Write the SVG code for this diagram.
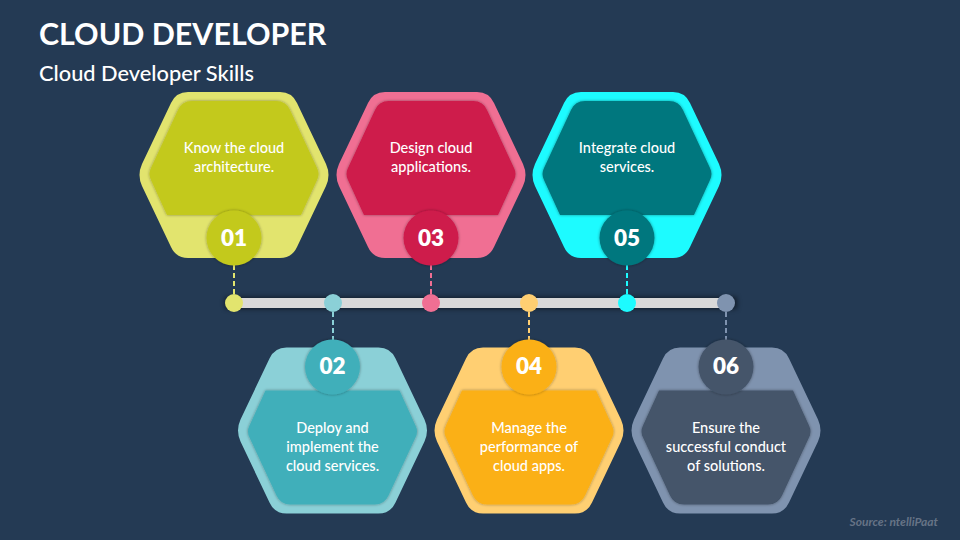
<svg xmlns="http://www.w3.org/2000/svg" width="960" height="540" viewBox="0 0 960 540">
<style>
text{font-family:"Lato","Carlito","Open Sans",sans-serif;fill:#fff}
.t{font-size:30.4px;font-weight:700}
.s{font-size:21.8px;font-weight:500}
.l{font-size:14.5px;font-weight:500;text-anchor:middle}
.n{font-size:22.5px;font-weight:800;text-anchor:middle}
.src{font-size:12px;font-weight:700;font-style:italic;fill:#667386;text-anchor:end}
.d{fill:none;stroke-width:2;stroke-dasharray:5 3}
.c1{fill:#E2E46E}.i1{fill:#C3C91C}.k1{stroke:#E2E46E}
.c2{fill:#8BD0D7}.i2{fill:#41AFBA}.k2{stroke:#8BD0D7}
.c3{fill:#F06F93}.i3{fill:#CE1A4B}.k3{stroke:#F06F93}
.c4{fill:#FFCF72}.i4{fill:#FBB017}.k4{stroke:#FFCF72}
.c5{fill:#1DFBFF}.i5{fill:#00777E}.k5{stroke:#1DFBFF}
.c6{fill:#7F93AF}.i6{fill:#44546A}.k6{stroke:#7F93AF}
</style>
<defs>
<filter id="sh" x="-20%" y="-20%" width="140%" height="140%"><feGaussianBlur in="SourceAlpha" stdDeviation="1.8" result="b"/><feFlood flood-color="#000" flood-opacity=".4"/><feComposite in2="b" operator="in"/><feMerge><feMergeNode/><feMergeNode in="SourceGraphic"/></feMerge></filter>
<filter id="bs" x="-5%" y="-100%" width="110%" height="300%"><feGaussianBlur stdDeviation="2.5"/></filter>
<path id="outer" d="M-46 -83H46Q58 -83 63 -72L92 -11Q97 0 92 11L63 72Q58 83 46 83H-46Q-58 83 -63 72L-92 11Q-97 0 -92 -11L-63 -72Q-58 -83 -46 -83Z"/>
<path id="innerT" d="M-42 -73H42Q52 -73 56 -64L83 -6Q86 0 83 6L67 41H-67L-83 6Q-86 0 -83 -6L-56 -64Q-52 -73 -42 -73Z"/>
<path id="innerB" d="M-42 73H42Q52 73 56 64L83 6Q86 0 83 -6L67 -41H-67L-83 -6Q-86 0 -83 6L-56 64Q-52 73 -42 73Z"/>
</defs>
<rect width="960" height="540" fill="#243A54"/>
<g id="title"><text class="t" x="39" y="45">CLOUD DEVELOPER</text><text class="s" x="39" y="81">Cloud Developer Skills</text></g>
<g id="connectors">
<rect x="225" y="297" width="512" height="12" fill="#000" opacity=".5" filter="url(#bs)"/>
<rect x="234" y="298" width="492" height="10" fill="#D9D9D9"/>
<path class="d k1" d="M234 265V295"/><path class="d k2" d="M333 312V340"/><path class="d k3" d="M431 265V295"/><path class="d k4" d="M529 312V340"/><path class="d k5" d="M627 265V295"/><path class="d k6" d="M726 312V340"/>
</g>
<g id="node1"><use href="#outer" class="c1" x="234" y="175"/><use href="#innerT" class="i1" x="234" y="174" filter="url(#sh)"/><circle class="i1" cx="234" cy="238" r="27.500" filter="url(#sh)"/><circle class="c1" cx="234" cy="303" r="9"/><text class="l" x="234" y="153">Know the cloud</text><text class="l" x="234" y="172">architecture.</text><text class="n" x="234" y="246">01</text></g>
<g id="node2"><use href="#outer" class="c2" x="332.500" y="430.500"/><use href="#innerB" class="i2" x="332.500" y="431.500" filter="url(#sh)"/><circle class="i2" cx="332.500" cy="367" r="27.500" filter="url(#sh)"/><circle class="c2" cx="333" cy="303" r="9"/><text class="l" x="332.500" y="433">Deploy and</text><text class="l" x="332.500" y="452">implement the</text><text class="l" x="332.500" y="471">cloud services.</text><text class="n" x="332.500" y="374">02</text></g>
<g id="node3"><use href="#outer" class="c3" x="431" y="175"/><use href="#innerT" class="i3" x="431" y="174" filter="url(#sh)"/><circle class="i3" cx="431" cy="238" r="27.500" filter="url(#sh)"/><circle class="c3" cx="431" cy="303" r="9"/><text class="l" x="431" y="153">Design cloud</text><text class="l" x="431" y="172">applications.</text><text class="n" x="431" y="246">03</text></g>
<g id="node4"><use href="#outer" class="c4" x="529" y="430.500"/><use href="#innerB" class="i4" x="529" y="431.500" filter="url(#sh)"/><circle class="i4" cx="529" cy="367" r="27.500" filter="url(#sh)"/><circle class="c4" cx="529" cy="303" r="9"/><text class="l" x="529" y="433">Manage the</text><text class="l" x="529" y="452">performance of</text><text class="l" x="529" y="471">cloud apps.</text><text class="n" x="529" y="374">04</text></g>
<g id="node5"><use href="#outer" class="c5" x="627" y="175"/><use href="#innerT" class="i5" x="627" y="174" filter="url(#sh)"/><circle class="i5" cx="627" cy="238" r="27.500" filter="url(#sh)"/><circle class="c5" cx="627" cy="303" r="9"/><text class="l" x="627" y="153">Integrate cloud</text><text class="l" x="627" y="172">services.</text><text class="n" x="627" y="246">05</text></g>
<g id="node6"><use href="#outer" class="c6" x="726" y="430.500"/><use href="#innerB" class="i6" x="726" y="431.500" filter="url(#sh)"/><circle class="i6" cx="726" cy="367" r="27.500" filter="url(#sh)"/><circle class="c6" cx="726" cy="303" r="9"/><text class="l" x="726" y="433">Ensure the</text><text class="l" x="726" y="452">successful conduct</text><text class="l" x="726" y="471">of solutions.</text><text class="n" x="726" y="374">06</text></g>
<text class="src" x="938" y="526">Source: ntelliPaat</text>
</svg>
